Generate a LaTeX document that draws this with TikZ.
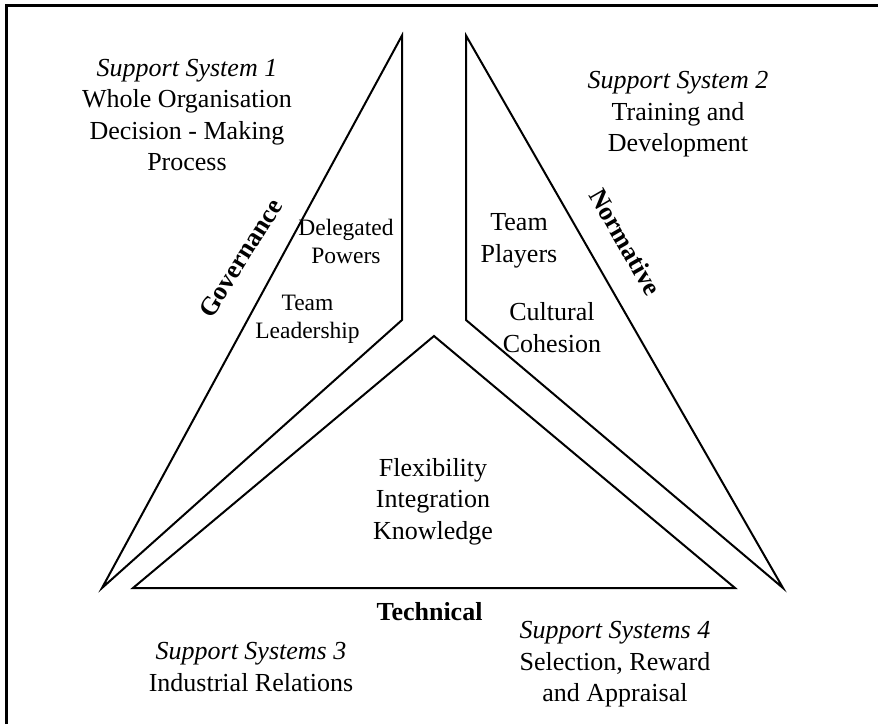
\documentclass[tikz,border=0pt]{standalone}
\usepackage{fontspec}
\setmainfont{Liberation Serif}
\begin{document}
\begin{tikzpicture}[x=1pt,y=-1pt,
  shapeline/.style={line width=2pt, line join=miter},
  framebar/.style={line width=2.7pt},
  lbl/.style={font=\fontsize{26}{31.5}\selectfont, align=center, inner sep=0pt},
  smalllbl/.style={font=\fontsize{23.5}{28}\selectfont, align=center, inner sep=0pt},
  boldlbl/.style={font=\fontsize{26}{31}\selectfont\bfseries, inner sep=0pt}]
\useasboundingbox (0,0) rectangle (878,724);
% frame (top and left only)
\coordinate (fbl) at (6.5,724);
\coordinate (ftl) at (6.5,5.3);
\coordinate (ftr) at (878,5.3);
\draw[framebar] (fbl) -- (ftl) -- (ftr);
% left shape (Governance)
\coordinate (gt) at (402,35.5);
\coordinate (gm) at (402,320);
\coordinate (gb) at (102,588);
\draw[shapeline] (gt) -- (gm) -- (gb) -- cycle;
% right shape (Normative)
\coordinate (nt) at (466,35.5);
\coordinate (nm) at (466,320);
\coordinate (nb) at (783,588);
\draw[shapeline] (nt) -- (nm) -- (nb) -- cycle;
% middle triangle (Technical)
\coordinate (ta) at (434,336);
\coordinate (tr) at (735,588);
\coordinate (tl) at (133,588);
\draw[shapeline] (ta) -- (tr) -- (tl) -- cycle;
% texts
\node[lbl] (ss1) at (187,115) {\textit{Support System 1}\\Whole Organisation\\Decision - Making\\Process};
\node[lbl] (ss2) at (678,114.5) {\textit{Support System 2}\\Training and\\Development};
\node[smalllbl] (dp) at (346,241) {Delegated\\Powers};
\node[smalllbl] (tld) at (307.5,319) {Team\\Leadership};
\node[lbl] (tp) at (519,241) {Team\\Players};
\node[lbl] (cc) at (552,327.5) {Cultural\\Cohesion};
\node[lbl] (fik) at (433,501.5) {Flexibility\\Integration\\Knowledge};
\node[boldlbl] (tech) at (429.5,612) {Technical};
\node[lbl] (ss3) at (251,667) {\textit{Support Systems 3}\\Industrial Relations};
\node[lbl] (ss4) at (615,664.5) {\textit{Support Systems 4}\\Selection, Reward\\and Appraisal};
\node[boldlbl, rotate=58] (gov) at (240.5,258) {Governance};
\node[boldlbl, rotate=-60] (norm) at (625.5,242) {Normative};
\end{tikzpicture}
\end{document}
